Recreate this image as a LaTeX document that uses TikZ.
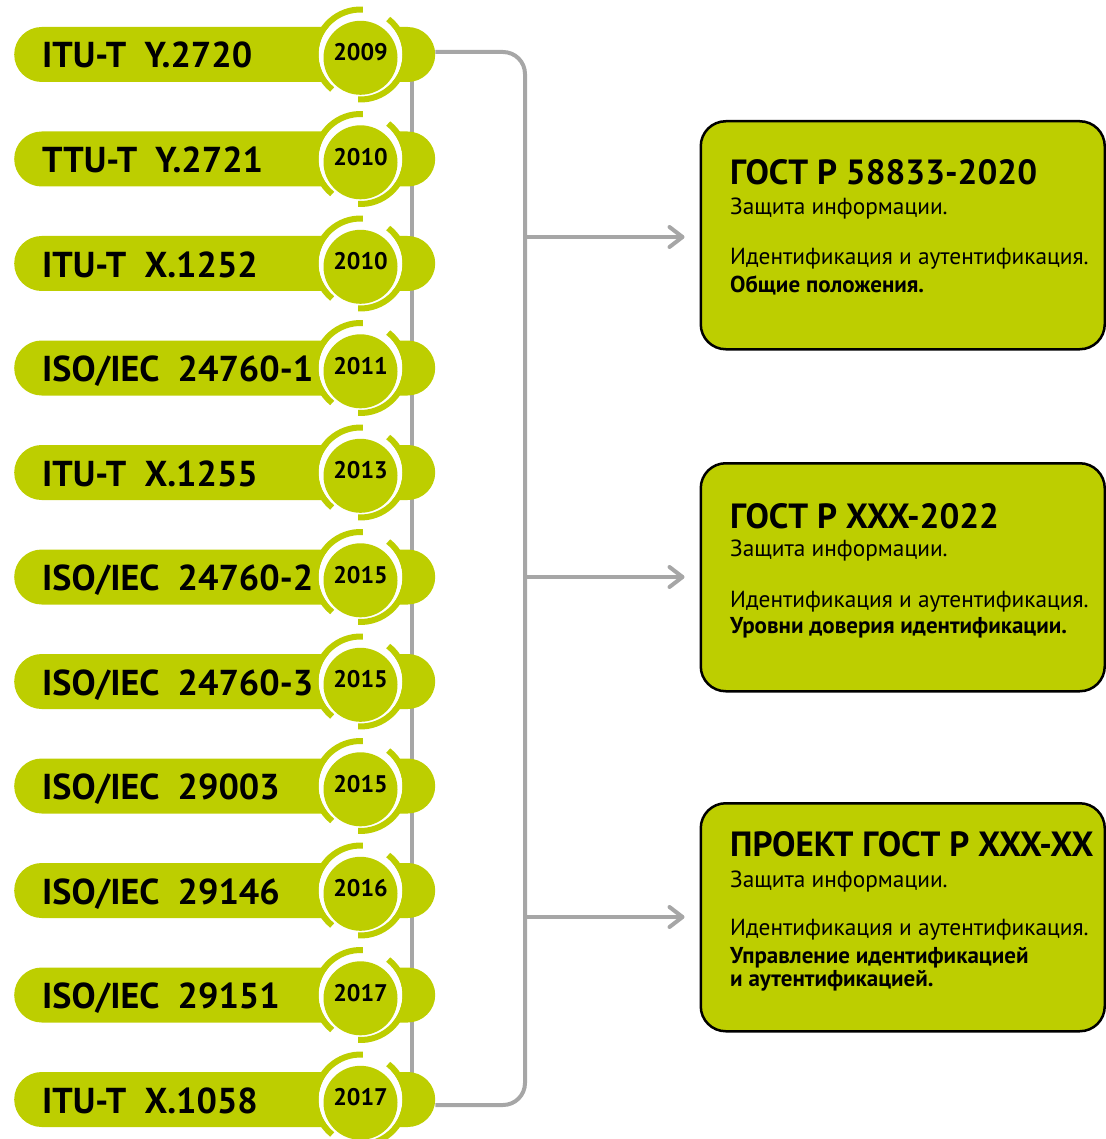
\documentclass[tikz,border=0pt]{standalone}
\usepackage{fontspec}
\setmainfont{PT Sans}
\usetikzlibrary{arrows.meta,shapes.misc,backgrounds}
\definecolor{lime}{RGB}{189,206,0}
\definecolor{conngray}{RGB}{166,166,166}
\begin{document}
\begin{tikzpicture}[x=1pt,y=1pt,
  bar/.style={rounded rectangle, fill=lime, minimum width=421pt, minimum height=55pt, inner sep=0pt, anchor=west},
  bartext/.style={anchor=base west, inner sep=0pt, font=\bfseries\fontsize{36}{40}\selectfont},
  disk/.style={circle, fill=lime, minimum size=74pt, inner sep=0pt},
  yeartext/.style={inner sep=0pt, font=\bfseries\fontsize{24}{28}\selectfont},
  ring/.style={draw=lime, line width=6pt},
  conn/.style={draw=conngray, line width=4pt},
  tip/.style={-{Straight Barb[length=13pt,width=20pt,round]}},
  infobox/.style={draw=black, line width=2.5pt, fill=lime, rounded corners=25pt, minimum width=404pt, minimum height=228pt, anchor=north west, inner sep=0pt},
  title/.style={anchor=base west, inner sep=0pt, font=\bfseries\fontsize{35}{38}\selectfont},
  body/.style={anchor=base west, inner sep=0pt, font=\fontsize{23.3}{26}\selectfont},
  bodyb/.style={anchor=base west, inner sep=0pt, font=\bfseries\fontsize{23}{26}\selectfont}
]
\useasboundingbox (0,0) rectangle (1105,-1139);

\foreach \lab/\yr [count=\i] in {
  {ITU-T\ \ Y.2720}/2009,
  {TTU-T\ \ Y.2721}/2010,
  {ITU-T\ \ X.1252}/2010,
  {ISO/IEC\ \ 24760-1}/2011,
  {ITU-T\ \ X.1255}/2013,
  {ISO/IEC\ \ 24760-2}/2015,
  {ISO/IEC\ \ 24760-3}/2015,
  {ISO/IEC\ \ 29003}/2015,
  {ISO/IEC\ \ 29146}/2016,
  {ISO/IEC\ \ 29151}/2017,
  {ITU-T\ \ X.1058}/2017}{
  \pgfmathsetmacro{\yc}{54.5+104.5*(\i-1)}
  \node[bar] (b\i) at (14,-\yc) {};
  \fill[white] (360.5,-\yc) circle (42);
  \draw[ring] ([shift={(87:45)}]360.5,-\yc) arc[start angle=87, end angle=231, radius=45];
  \draw[ring] ([shift={(-93:45)}]360.5,-\yc) arc[start angle=-93, end angle=52, radius=45];
  \node[disk] (y\i) at (360.5,-\yc-3.3) {};
  \node[yeartext] (yt\i) at (360.5,-\yc+2) {\yr};
  \node[bartext] (bt\i) at (42,-\yc-13.5) {\lab};
}

\begin{pgfonlayer}{background}
  \draw[conn] ([xshift=-23pt]b1.east) -- ([xshift=-23pt]b11.east);
\end{pgfonlayer}

\coordinate (vx) at (525,0);
\draw[conn, rounded corners=22pt] ([yshift=2.5pt]b1.east) -- ([yshift=2.5pt]b1.east -| vx) -- ([yshift=-5.5pt]b11.east -| vx) -- ([yshift=-5.5pt]b11.east);

% boxes
\node[infobox] (g1) at (699.5,-120) {};
\node[infobox] (g2) at (699.5,-462) {};
\node[infobox] (g3) at (699.5,-802) {};

\coordinate (v1) at (525,-237);
\coordinate (v2) at (525,-577);
\coordinate (v3) at (525,-917);
\foreach \k in {1,2,3}{
  \draw[conn, tip, shorten >=15pt] (v\k) -- (v\k -| g\k.west);
}

\node[title] (t1a) at (730,-185) {ГОСТ Р 58833-2020};
\node[body]  (t1b) at (730,-215) {Защита информации.};
\node[body]  (t1c) at (730,-265) {Идентификация и аутентификация.};
\node[bodyb] (t1d) at (730,-293) {Общие положения.};

\node[title] (t2a) at (730,-528) {ГОСТ Р XXX-2022};
\node[body]  (t2b) at (730,-556) {Защита информации.};
\node[body]  (t2c) at (730,-607) {Идентификация и аутентификация.};
\node[bodyb] (t2d) at (730,-633) {Уровни доверия идентификации.};

\node[title] (t3a) at (730,-856) {ПРОЕКТ ГОСТ Р XXX-XX};
\node[body]  (t3b) at (730,-887) {Защита информации.};
\node[body]  (t3c) at (730,-935) {Идентификация и аутентификация.};
\node[bodyb] (t3d) at (730,-963) {Управление идентификацией};
\node[bodyb] (t3e) at (730,-986) {и аутентификацией.};
\end{tikzpicture}
\end{document}
